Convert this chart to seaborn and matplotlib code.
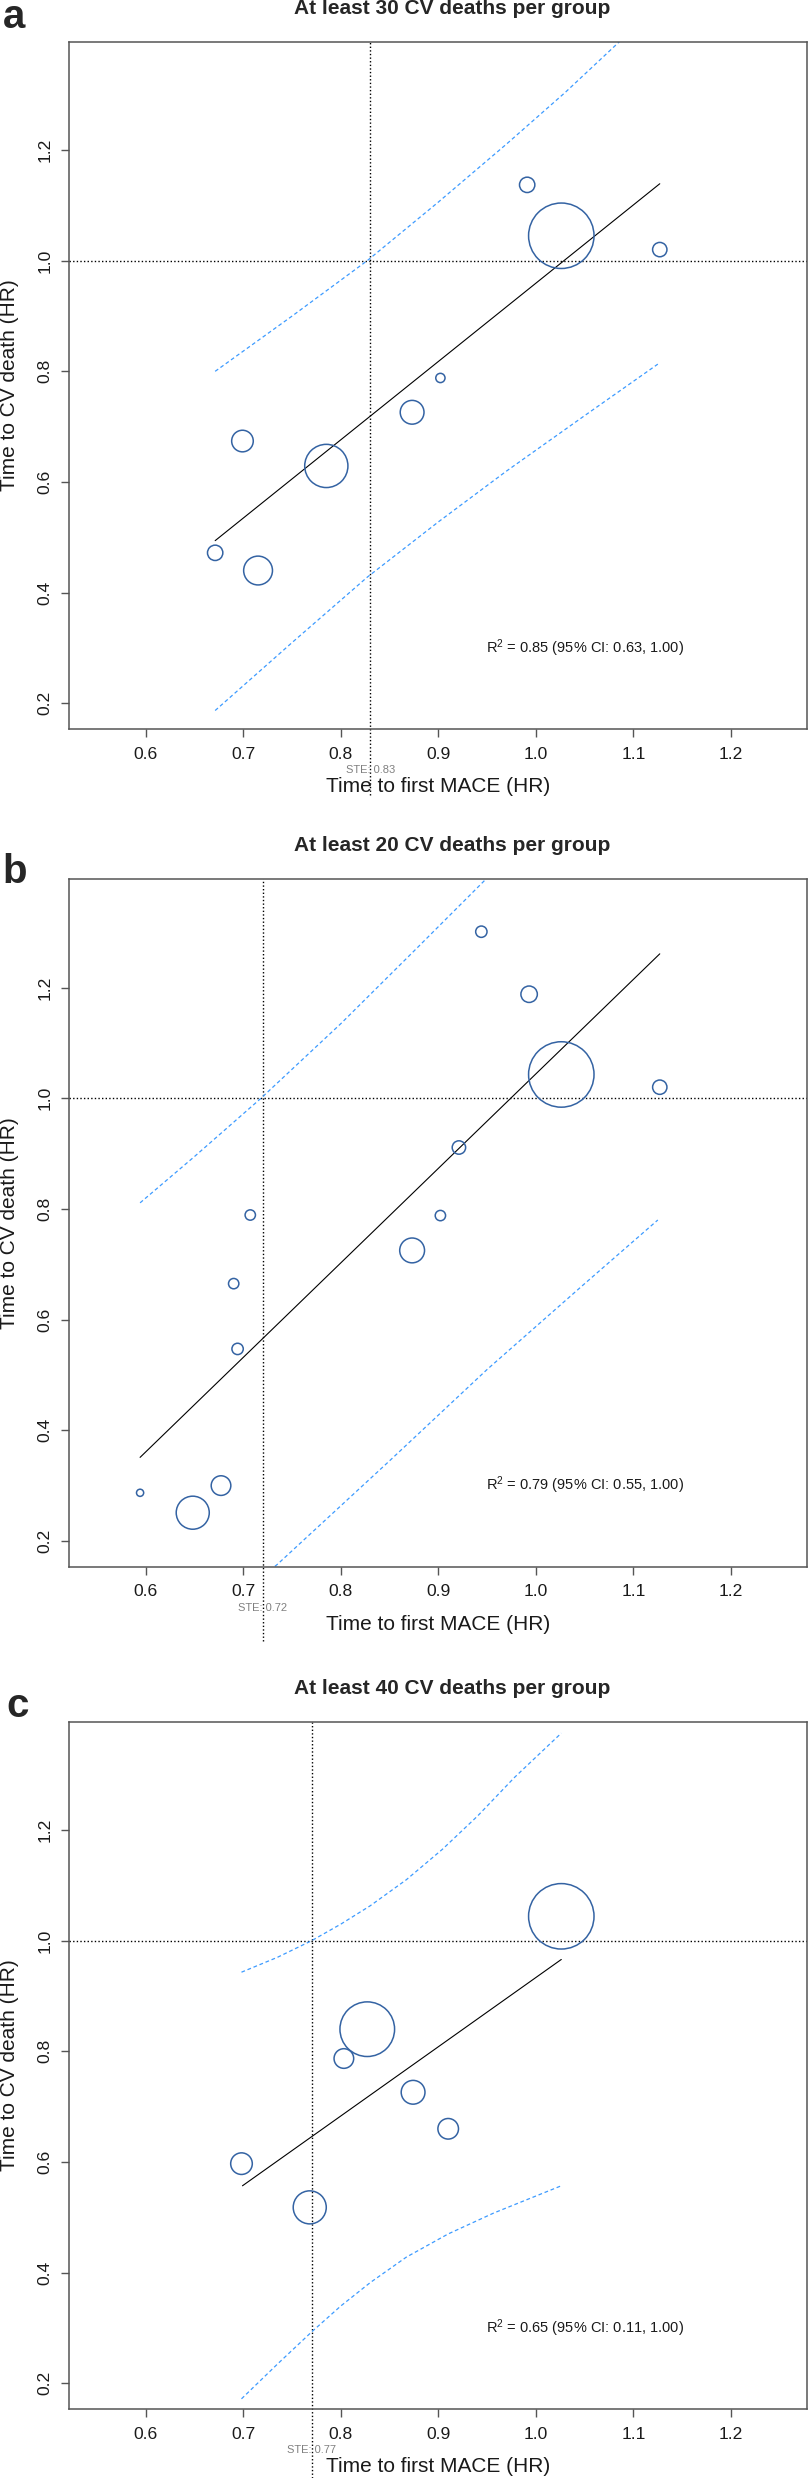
import matplotlib
matplotlib.use("Agg")
import matplotlib.pyplot as plt
import seaborn as sns

# panel a: at least 30 CV deaths per group
a_mace = [0.671, 0.699, 0.715, 0.785, 0.873, 0.902, 0.991, 1.026, 1.127]
a_cvd = [0.472, 0.674, 0.440, 0.629, 0.726, 0.788, 1.137, 1.045, 1.020]
a_weight = [5.5, 10.9, 19.4, 43.6, 13.2, 2.0, 5.5, 100, 4.8]
a_fit_x = [0.671, 1.127]
a_fit_y = [0.494, 1.139]
a_upper_x = [0.671, 0.75, 0.827, 0.90, 0.97, 1.03, 1.087, 1.127]
a_upper_y = [0.800, 0.900, 1.000, 1.106, 1.211, 1.304, 1.398, 1.46]
a_lower_x = [0.671, 0.75, 0.827, 0.90, 0.97, 1.05, 1.125]
a_lower_y = [0.187, 0.310, 0.428, 0.528, 0.620, 0.720, 0.813]
a_ste = 0.83
a_r2 = "0.85 (95% CI: 0.63, 1.00)"

# panel b: at least 20 CV deaths per group
b_mace = [0.594, 0.648, 0.677, 0.690, 0.694, 0.707, 0.873, 0.902, 0.921, 0.944, 0.993, 1.026, 1.127]
b_cvd = [0.287, 0.251, 0.300, 0.665, 0.547, 0.789, 0.725, 0.788, 0.911, 1.301, 1.188, 1.043, 1.020]
b_weight = [1.2, 25.5, 9.0, 2.5, 3.0, 2.5, 14.4, 2.5, 4.2, 3.0, 6.3, 100, 4.8]
b_fit_x = [0.594, 1.127]
b_fit_y = [0.351, 1.261]
b_upper_x = [0.594, 0.65, 0.718, 0.80, 0.88, 0.947, 1.0]
b_upper_y = [0.811, 0.895, 1.000, 1.135, 1.275, 1.393, 1.49]
b_lower_x = [0.66, 0.735, 0.85, 0.95, 1.05, 1.125]
b_lower_y = [0.05, 0.158, 0.345, 0.510, 0.665, 0.780]
b_ste = 0.72
b_r2 = "0.79 (95% CI: 0.55, 1.00)"

# panel c: at least 40 CV deaths per group
c_mace = [0.698, 0.768, 0.803, 0.827, 0.874, 0.910, 1.026]
c_cvd = [0.597, 0.518, 0.787, 0.840, 0.726, 0.660, 1.044]
c_weight = [10.9, 25.5, 9.0, 69.7, 13.2, 9.9, 100]
c_fit_x = [0.699, 1.026]
c_fit_y = [0.557, 0.966]
c_upper_x = [0.698, 0.735, 0.770, 0.80, 0.83, 0.867, 0.904, 0.94, 0.978, 1.026]
c_upper_y = [0.943, 0.970, 1.000, 1.030, 1.063, 1.110, 1.165, 1.225, 1.295, 1.375]
c_lower_x = [0.698, 0.735, 0.770, 0.80, 0.83, 0.867, 0.91, 0.957, 1.026]
c_lower_y = [0.172, 0.235, 0.293, 0.340, 0.382, 0.428, 0.470, 0.508, 0.557]
c_ste = 0.77
c_r2 = "0.65 (95% CI: 0.11, 1.00)"

x_ticks = [0.6, 0.7, 0.8, 0.9, 1.0, 1.1, 1.2]
y_ticks = [0.2, 0.4, 0.6, 0.8, 1.0, 1.2]

panels = [
    dict(letter="a", title="At least 30 CV deaths per group", mace=a_mace, cvd=a_cvd, w=a_weight,
         fx=a_fit_x, fy=a_fit_y, ux=a_upper_x, uy=a_upper_y, lx=a_lower_x, ly=a_lower_y,
         ste=a_ste, r2=a_r2),
    dict(letter="b", title="At least 20 CV deaths per group", mace=b_mace, cvd=b_cvd, w=b_weight,
         fx=b_fit_x, fy=b_fit_y, ux=b_upper_x, uy=b_upper_y, lx=b_lower_x, ly=b_lower_y,
         ste=b_ste, r2=b_r2),
    dict(letter="c", title="At least 40 CV deaths per group", mace=c_mace, cvd=c_cvd, w=c_weight,
         fx=c_fit_x, fy=c_fit_y, ux=c_upper_x, uy=c_upper_y, lx=c_lower_x, ly=c_lower_y,
         ste=c_ste, r2=c_r2),
]

sns.set_style("ticks")
plt.rcParams["font.family"] = ["Liberation Sans", "DejaVu Sans"]

W, H = 808, 2478
fig = plt.figure(figsize=(W / 100, H / 100), dpi=100)

# layout in pixels: axes top/bottom, letter position, stray length of STE line
ax_left, ax_right = 69.3, 807.0
tops = [41.7, 879.3, 1721.7]
letter_pos = [(2.5, 28.3), (2.5, 883.0), (6.5, 1716.7)]
ste_drop = [66, 74, 69]
ax_h = 687.3

circle_col = "#3463a3"
band_col = "#3d9bff"
dot = (0, (1, 1.6))

for i, p in enumerate(panels):
    top = tops[i]
    ax = fig.add_axes([ax_left / W, 1 - (top + ax_h) / H, (ax_right - ax_left) / W, ax_h / H])

    sizes = [v * 22.2 for v in p["w"]]
    sns.scatterplot(x=p["mace"], y=p["cvd"], s=sizes, ax=ax, marker="o",
                    facecolor="none", edgecolor=circle_col, linewidth=1.1, zorder=3)
    sns.lineplot(x=p["fx"], y=p["fy"], ax=ax, color="black", linewidth=0.8,
                 estimator=None, sort=False)
    sns.lineplot(x=p["ux"], y=p["uy"], ax=ax, color=band_col, linewidth=0.9,
                 dashes=(3, 2.2), estimator=None, sort=False)
    sns.lineplot(x=p["lx"], y=p["ly"], ax=ax, color=band_col, linewidth=0.9,
                 dashes=(3, 2.2), estimator=None, sort=False)

    ax.axhline(1.0, color="black", linewidth=1.0, linestyle=dot, zorder=1)
    ax.axvline(p["ste"], ymin=-ste_drop[i] / ax_h, ymax=1, color="black", linewidth=1.0,
               linestyle=dot, clip_on=False, zorder=1)

    ax.set_xlim(0.5214, 1.278)
    ax.set_ylim(0.1536, 1.3957)
    ax.set_xticks(x_ticks)
    ax.set_xticklabels([f"{t:.1f}" for t in x_ticks])
    ax.set_yticks(y_ticks)
    ax.set_yticklabels([f"{t:.1f}" for t in y_ticks], rotation=90, va="center")
    ax.tick_params(bottom=True, left=True, top=False, right=False, direction="out",
                   length=5.8, width=1.0, color="#555555",
                   labelsize=12.6, pad=7, labelcolor="#1a1a1a")
    ax.tick_params(axis="y", pad=6.5)
    for s in ax.spines.values():
        s.set_color("#555555")
        s.set_linewidth(1.1)
        s.set_visible(True)

    ax.text(0.5, -57.5 / ax_h, "Time to first MACE (HR)", transform=ax.transAxes,
            ha="center", va="center", fontsize=15, color="#1a1a1a")
    ax.text(-59.3 / (ax_right - ax_left), 0.5, "Time to CV death (HR)", transform=ax.transAxes,
            ha="center", va="center", rotation=90, fontsize=15, color="#1a1a1a")
    ax.text(p["ste"], -41 / ax_h, f"STE: {p['ste']:.2f}", transform=ax.get_xaxis_transform(),
            ha="center", va="center", fontsize=8, color="#808080")
    ax.text(1.05, 0.30, "$\\mathregular{R^2}$ = " + p["r2"], ha="center", va="center",
            fontsize=10.5, color="#1a1a1a")

    fig.text(452 / W, 1 - (top - 28) / H, p["title"], ha="center", va="baseline",
             fontsize=15, fontweight="bold")
    lx, ly = letter_pos[i]
    fig.text(lx / W, 1 - ly / H, p["letter"], ha="left", va="baseline",
             fontsize=29, fontweight="bold")

fig.savefig("out.png", dpi=100)
